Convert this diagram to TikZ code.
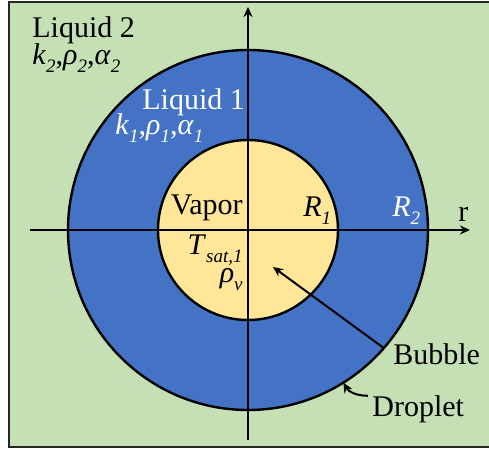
\documentclass[tikz,border=0pt]{standalone}
\usepackage{fontspec}
\setmainfont{Liberation Serif}
\usetikzlibrary{arrows.meta}
\definecolor{liqtwogreen}{HTML}{C5E0B4}
\definecolor{liqoneblue}{HTML}{4472C4}
\definecolor{vaporyellow}{HTML}{FFE699}
\newcommand{\lowsub}[1]{\raisebox{-0.25em}{\fontsize{9.5}{10}\selectfont\itshape #1}}

\begin{document}
\begin{tikzpicture}[x=0.5pt,y=0.5pt,>={Stealth[length=5pt,width=4.5pt]},font=\fontsize{15}{18}\selectfont]
\useasboundingbox (-248,-220) rectangle (241,230);
\fill[liqtwogreen] (-239,-217) rectangle (241,228);
\draw[line width=1.2pt,black!85] (241,228) -- (-239,228) -- (-239,-217) -- (241,-217);
% droplet and bubble
\node[circle,draw,line width=1.2pt,fill=liqoneblue,minimum size=180pt,inner sep=0,outer sep=0] (drop) at (0,0) {};
\node[circle,draw,line width=1.2pt,fill=vaporyellow,minimum size=90pt,inner sep=0,outer sep=0] (bub) at (0,0) {};
% axes
\coordinate (xl) at (-218,0);
\coordinate (xr) at (222,0);
\coordinate (yb) at (0,-210);
\coordinate (yt) at (0,223);
\draw[->,line width=1pt] (xl)--(xr);
\draw[->,line width=1pt] (yb)--(yt);
% labels
\node[anchor=base west,inner sep=0] (liq2) at (-216,192) {Liquid 2};
\node[anchor=base west,inner sep=0] (prop2) at (-216,165) {\textit{k}\lowsub{2},\textit{ρ}\lowsub{2},\textit{α}\lowsub{2}};
\node[anchor=base west,inner sep=0,text=white] (liq1) at (-106,120) {Liquid 1};
\node[anchor=base west,inner sep=0,text=white] (prop1) at (-133,95) {\textit{k}\lowsub{1},\textit{ρ}\lowsub{1},\textit{α}\lowsub{1}};
\node[anchor=base east,inner sep=0] (vap) at (-5,15) {Vapor};
\node[anchor=base west,inner sep=0] (rone) at (55,13) {\textit{R}\lowsub{1}};
\node[anchor=base west,inner sep=0,text=white] (rtwo) at (144,13) {\textit{R}\lowsub{2}};
\node[anchor=base west,inner sep=0] (rlab) at (210,8) {r};
\node[anchor=base east,inner sep=0] (tsat) at (-5,-25) {\textit{T}\lowsub{sat,1}};
\node[anchor=base east,inner sep=0] (rhov) at (-5,-53) {\textit{ρ}\lowsub{v}};
\node[anchor=base west,inner sep=0] (bubtxt) at (145,-135) {Bubble};
\node[anchor=base west,inner sep=0] (droptxt) at (124,-187) {Droplet};
% pointers
\coordinate (bubtip) at (25,-37);
\draw[->,line width=1pt] (drop.-41.2)--(bubtip);
\draw[->,line width=1pt] ([xshift=-2pt]droptxt.north west) to[out=180,in=-60] (drop.-58.8);
\end{tikzpicture}
\end{document}
